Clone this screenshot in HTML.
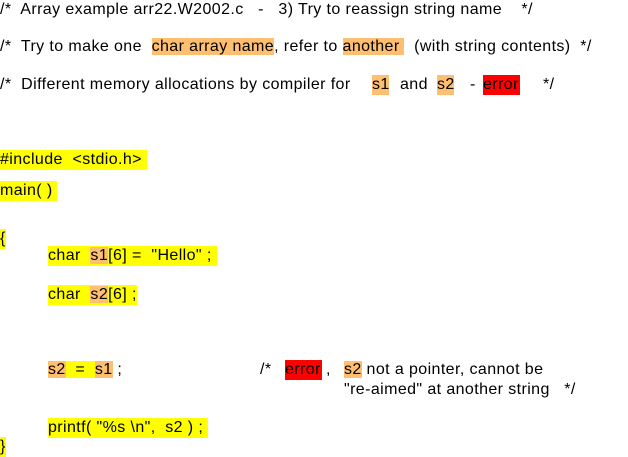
<!DOCTYPE html>
<html><head><meta charset="utf-8"><style>
body{margin:0;width:628px;height:457px;background:#fff;position:relative;overflow:hidden;font-family:"Liberation Sans",Arial,sans-serif;font-size:16px;letter-spacing:0.4px;color:#000}
.l{position:absolute;white-space:pre;line-height:20px;height:20px}
.y{background:#ffff00}
.o{background:#ffbf70}
.r{background:#ff0000}
</style></head><body>
<div class="l" style="left:0;top:0">/*  Array example arr22.W2002.c   -   3) Try to reassign string name    */</div>
<div class="l" style="left:0;top:37px">/*  Try to make one  <span class="o">char array name</span>, refer to <span class="o">another </span>  (with string contents)  */</div>
<div class="l" style="left:0;top:75px">/*  Different memory allocations by compiler for</div>
<div class="l o" style="left:372px;top:75px;width:17px">s1</div>
<div class="l" style="left:400px;top:75px">and</div>
<div class="l o" style="left:437px;top:75px;width:17px">s2</div>
<div class="l" style="left:470px;top:75px">-</div>
<div class="l r" style="left:483px;top:75px;width:37px">error</div>
<div class="l" style="left:543px;top:75px">*/</div>
<div class="l y" style="left:0;top:150px">#include  &lt;stdio.h&gt; </div>
<div class="l y" style="left:0;top:181px">main( ) </div>
<div class="l y" style="left:0;top:229px">{</div>
<div class="l y" style="left:48px;top:246px">char  <span class="o">s1</span>[6] =  "Hello" ; </div>
<div class="l y" style="left:48px;top:285px">char  <span class="o">s2</span>[6] ;</div>
<div class="l" style="left:48px;top:360px"><span class="o">s2</span><span class="y">  =  </span><span class="o">s1</span> ;</div>
<div class="l" style="left:260px;top:360px">/*</div>
<div class="l r" style="left:285px;top:360px;width:37px">error</div>
<div class="l" style="left:326px;top:360px">,</div>
<div class="l" style="left:344px;top:360px"><span class="o">s2</span> not a pointer, cannot be</div>
<div class="l" style="left:344px;top:380px">"re-aimed" at another string   */</div>
<div class="l y" style="left:48px;top:418px">printf( "%s \n",  s2 ) ; </div>
<div class="l y" style="left:0;top:437px">}</div>
</body></html>
